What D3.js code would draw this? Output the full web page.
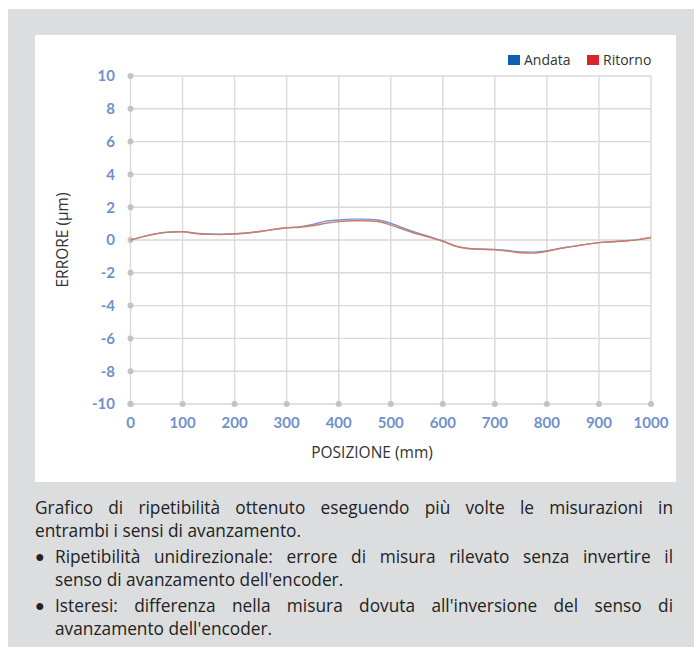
<!DOCTYPE html>
<html>
<head>
<meta charset="utf-8">
<script src="https://cdn.jsdelivr.net/npm/d3@7"></script>
<style>
  body { margin: 0; background: #fff; }
  #wrap { position: relative; width: 694px; height: 652px; }
  #caption {
    position: absolute; left: 35px; top: 496px; width: 638px;
    font-family: "Open Sans", "Noto Sans", sans-serif; font-size: 17.3px; color: #222;
    line-height: 23px;
  }
  #caption .p { margin-bottom: 3px; }
  #caption .l { text-align: justify; text-align-last: justify; white-space: nowrap; }
  #caption .last { text-align: left; text-align-last: left; }
  #caption .b { position: relative; padding-left: 20px; }
  #caption .b::before { content: "\25CF"; position: absolute; left: 0; top: 0; font-size: 16px; }
</style>
</head>
<body>
<div id="wrap">
  <div id="chart"></div>
  <div id="caption">
    <div class="p">
      <div class="l">Grafico di ripetibilità ottenuto eseguendo più volte le misurazioni in</div>
      <div class="l last">entrambi i sensi di avanzamento.</div>
    </div>
    <div class="p b">
      <div class="l">Ripetibilità unidirezionale: errore di misura rilevato senza invertire il</div>
      <div class="l last">senso di avanzamento dell'encoder.</div>
    </div>
    <div class="p b">
      <div class="l">Isteresi: differenza nella misura dovuta all'inversione del senso di</div>
      <div class="l last">avanzamento dell'encoder.</div>
    </div>
  </div>
</div>
<script>
// Chart data
const positions = [0, 25, 50, 75, 100, 125, 150, 175, 200, 225, 250, 275, 300, 325, 350, 375, 400,
  425, 450, 475, 500, 525, 550, 575, 600, 625, 650, 675, 700, 725, 750, 775, 800, 825, 850, 875,
  900, 925, 950, 975, 1000];
const andata = [0, 0.22, 0.39, 0.49, 0.51, 0.42, 0.37, 0.36, 0.39, 0.43, 0.52, 0.64, 0.75, 0.80,
  0.95, 1.15, 1.22, 1.27, 1.27, 1.22, 1.02, 0.72, 0.44, 0.20, -0.06, -0.37, -0.51, -0.55, -0.57,
  -0.64, -0.73, -0.74, -0.66, -0.51, -0.39, -0.27, -0.16, -0.11, -0.05, 0.02, 0.16];
const ritorno = [0, 0.21, 0.38, 0.48, 0.50, 0.40, 0.34, 0.33, 0.37, 0.43, 0.53, 0.65, 0.75, 0.78,
  0.87, 1.02, 1.12, 1.17, 1.17, 1.13, 0.91, 0.64, 0.38, 0.16, -0.08, -0.38, -0.53, -0.57, -0.60,
  -0.68, -0.78, -0.80, -0.69, -0.52, -0.39, -0.27, -0.16, -0.11, -0.06, 0.02, 0.15];
const xTicks = [0, 100, 200, 300, 400, 500, 600, 700, 800, 900, 1000];
const yTicks = [-10, -8, -6, -4, -2, 0, 2, 4, 6, 8, 10];
const seriesNames = ['Andata', 'Ritorno'];

const W = 694, H = 652;
const svg = d3.select('#chart').append('svg')
  .attr('width', W).attr('height', H)
  .style('position', 'absolute').style('left', 0).style('top', 0);

// backgrounds
svg.append('rect').attr('x', 8).attr('y', 9).attr('width', W - 8).attr('height', 638).attr('fill', '#dcdddf');
svg.append('rect').attr('x', 35).attr('y', 35).attr('width', 641).attr('height', 447).attr('fill', '#fff');

const x = d3.scaleLinear().domain([0, 1000]).range([130.5, 651]);
const y = d3.scaleLinear().domain([-10, 10]).range([404, 76]);

const tickColor = '#7090cc';
const gridColor = '#d9d9d9';
const labelFont = '"Open Sans", sans-serif';

// grid
svg.append('g').selectAll('line').data(yTicks).join('line')
  .attr('x1', x(0)).attr('x2', x(1000))
  .attr('y1', d => y(d)).attr('y2', d => y(d))
  .attr('stroke', gridColor).attr('stroke-width', 1.4);
svg.append('g').selectAll('line').data(xTicks).join('line')
  .attr('x1', d => x(d)).attr('x2', d => x(d))
  .attr('y1', y(10)).attr('y2', y(-10))
  .attr('stroke', gridColor).attr('stroke-width', 1.4);

// tick dots
svg.append('g').selectAll('circle').data(yTicks).join('circle')
  .attr('cx', x(0)).attr('cy', d => y(d)).attr('r', 3).attr('fill', '#c3c3c3');
svg.append('g').selectAll('circle').data(xTicks).join('circle')
  .attr('cx', d => x(d)).attr('cy', y(-10)).attr('r', 3).attr('fill', '#c3c3c3');

// tick labels
svg.append('g').selectAll('text').data(yTicks).join('text')
  .attr('x', 115).attr('y', d => y(d)).attr('dy', '0.36em')
  .attr('text-anchor', 'end')
  .style('font-family', 'Lato, sans-serif').style('font-weight', 'bold').style('font-size', '15px')
  .attr('fill', tickColor).text(d => d);
svg.append('g').selectAll('text').data(xTicks).join('text')
  .attr('x', d => x(d)).attr('y', 423).attr('dy', '0.36em')
  .attr('text-anchor', 'middle')
  .style('font-family', 'Lato, sans-serif').style('font-weight', 'bold').style('font-size', '15px')
  .attr('fill', tickColor).text(d => d);

// axis titles
svg.append('text')
  .attr('transform', `translate(62,${y(0)}) rotate(-90)`)
  .attr('text-anchor', 'middle').attr('dy', '0.36em')
  .style('font-family', labelFont).style('font-size', '15.5px').attr('fill', '#333')
  .text('ERRORE (µm)');
svg.append('text')
  .attr('x', 372).attr('y', 452).attr('dy', '0.36em')
  .attr('text-anchor', 'middle')
  .style('font-family', labelFont).style('font-size', '15.5px').attr('fill', '#333')
  .text('POSIZIONE (mm)');

// lines
const line = vals => d3.line()
  .x((d, i) => x(positions[i]))
  .y(d => y(d))
  .curve(d3.curveMonotoneX)(vals);

svg.append('path').attr('d', line(andata))
  .attr('fill', 'none').attr('stroke', '#6f9ad8').attr('stroke-width', 1.4);
svg.append('path').attr('d', line(ritorno))
  .attr('fill', 'none').attr('stroke', '#d27a64').attr('stroke-width', 1.4);

// legend
const legendColors = ['#0f5fb0', '#d6252b'];
const legendX = [508, 587];
const lg = svg.append('g');
seriesNames.forEach((name, i) => {
  lg.append('rect').attr('x', legendX[i]).attr('y', 55).attr('width', 12).attr('height', 10)
    .attr('fill', legendColors[i]);
  lg.append('text').attr('x', legendX[i] + 16).attr('y', 60).attr('dy', '0.36em')
    .style('font-family', labelFont).style('font-size', '14px').attr('fill', '#333')
    .text(name);
});
</script>
</body>
</html>
